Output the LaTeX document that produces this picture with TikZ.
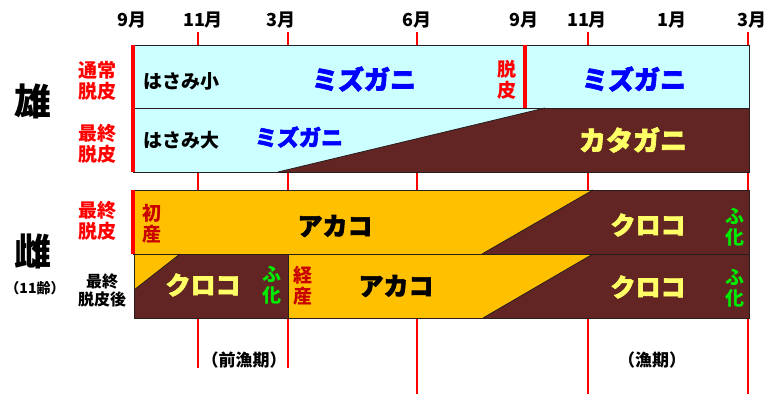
\documentclass[tikz,border=0pt]{standalone}
\usepackage{fontspec}
\setmainfont{Noto Sans CJK JP}
\newfontfamily\hv{Noto Sans CJK JP}[BoldFeatures={FakeBold=2.5}]
\definecolor{cyanbg}{RGB}{204,255,255}
\definecolor{orng}{RGB}{255,192,0}
\definecolor{brn}{RGB}{99,37,35}
\definecolor{ylw}{RGB}{255,255,102}
\definecolor{dred}{RGB}{200,0,0}
\definecolor{grn}{RGB}{0,235,0}
\definecolor{blu}{RGB}{0,0,255}
\definecolor{edge}{RGB}{40,30,30}
\begin{document}
\begin{tikzpicture}[x=1pt,y=-1pt,
  month/.style={font=\fontsize{18}{18}\selectfont\bfseries, inner sep=0pt},
  tick/.style={draw=red, line width=2.5pt},
  rbar/.style={draw=red, line width=4pt},
  box/.style={draw=edge, line width=1pt},
  redlab/.style={font=\fontsize{19}{21}\selectfont\bfseries, text=red, align=center, inner sep=0pt},
  smlab/.style={font=\fontsize{16}{18}\selectfont\bfseries, align=center, inner sep=0pt},
  vlab/.style={font=\fontsize{19}{21}\selectfont\bfseries, align=center, inner sep=0pt},
  big/.style={font=\hv\fontsize{25}{25}\selectfont\bfseries, inner sep=0pt},
  mid/.style={font=\fontsize{19}{19}\selectfont\bfseries, inner sep=0pt},
]
\useasboundingbox (0,0) rectangle (780,394);

% month labels
\node[month] (m1) at (132,20) {9月};
\node[month] (m2) at (203,20) {11月};
\node[month] (m3) at (281,20) {3月};
\node[month] (m4) at (417,20) {6月};
\node[month] (m5) at (524,20) {9月};
\node[month] (m6) at (587,20) {11月};
\node[month] (m7) at (672,20) {1月};
\node[month] (m8) at (752,20) {3月};

% ticks
\foreach \x in {198,288,417,588,748} {
  \draw[tick] (\x,32) -- (\x,45);
  \draw[tick] (\x,172) -- (\x,190);
}
\foreach \x in {198,288} \draw[tick] (\x,318) -- (\x,368);
\foreach \x in {417,588,748} \draw[tick] (\x,318) -- (\x,394);

% male row 1
\fill[cyanbg] (133,45) rectangle (749,108);
% male row 2
\fill[cyanbg] (133,108) rectangle (749,172);
\fill[brn] (278,172) -- (545,108) -- (749,108) -- (749,172) -- cycle;
\draw[edge, line width=0.8pt] (278,172) -- (545,108);
\draw[box] (133,45) rectangle (749,108);
\draw[box] (133,108) rectangle (749,172);
\draw[rbar] (525,45) -- (525,108);
\draw[rbar] (133,45) -- (133,172);

% female row 1
\fill[orng] (133,190) rectangle (749,254);
\fill[brn] (593,190) -- (749,190) -- (749,254) -- (482,254) -- cycle;
\draw[edge, line width=0.8pt] (593,190) -- (482,254);
% female row 2
\fill[orng] (134,254) rectangle (749,318);
\fill[brn] (180,254) -- (288,254) -- (288,318) -- (134,318) -- (134,290) -- cycle;
\draw[edge, line width=0.8pt] (180,254) -- (134,290);
\fill[brn] (593,254) -- (749,254) -- (749,318) -- (483,318) -- cycle;
\draw[edge, line width=0.8pt] (593,254) -- (483,318);
\draw[box] (133,190) rectangle (749,254);
\draw[box] (134,254) rectangle (749,318);
\draw[box] (288,254) -- (288,318);
\draw[rbar] (133,190) -- (133,254);

% left labels
\node[font=\fontsize{37}{37}\selectfont\bfseries, inner sep=0pt] (osu) at (33,101) {雄};
\node[font=\fontsize{37}{37}\selectfont\bfseries, inner sep=0pt] (mesu) at (33,251) {雌};
\node[font=\fontsize{14}{14}\selectfont\bfseries, inner sep=0pt] (rei) at (35,288) {（11齢）};
\node[redlab] (l1) at (97,81) {通常\\脱皮};
\node[redlab] (l2) at (97,144) {最終\\脱皮};
\node[redlab] (l3) at (97,221) {最終\\脱皮};
\node[smlab] (l4) at (102,290) {最終\\脱皮後};

% male texts
\node[mid, anchor=west] (hs) at (143,81) {はさみ小};
\node[mid, anchor=west] (hb) at (143,140) {はさみ大};
\node[big, font=\hv\fontsize{26}{26}\selectfont\bfseries, text=blu] (mz1) at (364,79) {ミズガニ};
\node[big, font=\hv\fontsize{22}{22}\selectfont\bfseries, text=blu] (mz2) at (299,137) {ミズガニ};
\node[redlab] (dp) at (507,80) {脱\\皮};
\node[big, font=\hv\fontsize{26}{26}\selectfont\bfseries, text=blu] (mz3) at (634,79) {ミズガニ};
\node[big, font=\hv\fontsize{27}{27}\selectfont\bfseries, text=ylw] (kt) at (633,140) {カタガニ};

% female texts
\node[vlab, text=dred] (sho) at (152,224) {初\\産};
\node[big] (ak1) at (335,226) {アカコ};
\node[big, text=ylw] (kr1) at (648,225) {クロコ};
\node[vlab, text=grn] (fk1) at (735,227) {ふ\\化};
\node[big, text=ylw] (kr2) at (203,285) {クロコ};
\node[vlab, text=grn] (fk2) at (272,285) {ふ\\化};
\node[vlab, text=dred] (kei) at (303,286) {経\\産};
\node[big] (ak2) at (396,286) {アカコ};
\node[big, text=ylw] (kr3) at (648,287) {クロコ};
\node[vlab, text=grn] (fk3) at (735,288) {ふ\\化};

% bottom
\node[font=\fontsize{17}{17}\selectfont\bfseries, inner sep=0pt] (zen) at (244,360) {（前漁期）};
\node[font=\fontsize{17}{17}\selectfont\bfseries, inner sep=0pt] (gyo) at (652,360) {（漁期）};
\end{tikzpicture}
\end{document}
